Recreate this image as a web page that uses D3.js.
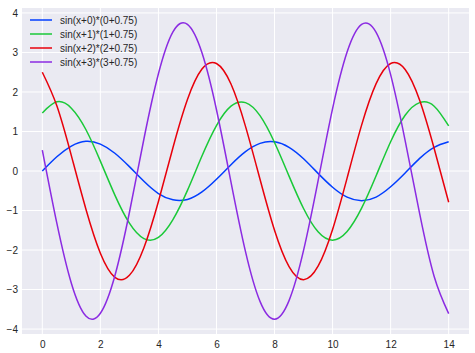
<!DOCTYPE html>
<html>
<head>
<meta charset="utf-8">
<script src="https://d3js.org/d3.v7.min.js"></script>
<style>
  body { margin: 0; background: #fff; }
  svg { font-family: 'Liberation Sans', Arial, sans-serif; }
  .tick text { fill: #262626; font-size: 10px; }
  .legend text { fill: #262626; font-size: 10px; }
</style>
</head>
<body>
<div id="chart"></div>
<script>
// x sampled every 0.5 from 0 to 14
const xs = d3.range(0, 29).map(k => k * 0.5);

const labels = ["sin(x+0)*(0+0.75)", "sin(x+1)*(1+0.75)", "sin(x+2)*(2+0.75)", "sin(x+3)*(3+0.75)"];
const colors = ["#023eff", "#1ac938", "#e8000b", "#8b2be2"];

const s0 = [0, 0.36, 0.63, 0.75, 0.68, 0.45, 0.11, -0.26, -0.57, -0.73, -0.72, -0.53, -0.21, 0.16, 0.49,
            0.70, 0.74, 0.60, 0.31, -0.06, -0.41, -0.66, -0.75, -0.66, -0.40, -0.05, 0.32, 0.60, 0.74];
const s1 = [1.47, 1.75, 1.59, 1.05, 0.25, -0.61, -1.32, -1.71, -1.68, -1.23, -0.49, 0.38, 1.15, 1.64, 1.73,
            1.40, 0.72, -0.13, -0.95, -1.54, -1.75, -1.53, -0.94, -0.12, 0.74, 1.41, 1.73, 1.64, 1.14];
const s2 = [2.50, 1.65, 0.39, -0.96, -2.08, -2.69, -2.64, -1.94, -0.77, 0.59, 1.81, 2.58, 2.72, 2.20, 1.13,
            -0.21, -1.50, -2.42, -2.75, -2.41, -1.48, -0.18, 1.16, 2.21, 2.72, 2.57, 1.79, 0.57, -0.79];
const s3 = [0.53, -1.32, -2.84, -3.67, -3.60, -2.65, -1.05, 0.81, 2.46, 3.52, 3.71, 2.99, 1.55, -0.28, -2.04,
            -3.30, -3.75, -3.28, -2.01, -0.25, 1.58, 3.01, 3.71, 3.51, 2.44, 0.77, -1.08, -2.67, -3.61];
const series = [s0, s1, s2, s3];

const xTicks = [0, 2, 4, 6, 8, 10, 12, 14];
const yTicks = [-4, -3, -2, -1, 0, 1, 2, 3, 4];

const W = 475, H = 353;
const plot = { left: 22, right: 469, top: 8, bottom: 334 };

const svg = d3.select("#chart").append("svg")
  .attr("width", W)
  .attr("height", H);

const x = d3.scaleLinear().domain([-0.7, 14.7]).range([plot.left, plot.right]);
const y = d3.scaleLinear().domain([-4.125, 4.125]).range([plot.bottom, plot.top]);

svg.append("rect")
  .attr("x", plot.left).attr("y", plot.top)
  .attr("width", plot.right - plot.left).attr("height", plot.bottom - plot.top)
  .attr("fill", "#eaeaf2");

// grid
svg.append("g").selectAll("line").data(xTicks).enter().append("line")
  .attr("x1", d => x(d)).attr("x2", d => x(d))
  .attr("y1", plot.top).attr("y2", plot.bottom)
  .attr("stroke", "#fff").attr("stroke-width", 1);
svg.append("g").selectAll("line").data(yTicks).enter().append("line")
  .attr("y1", d => y(d)).attr("y2", d => y(d))
  .attr("x1", plot.left).attr("x2", plot.right)
  .attr("stroke", "#fff").attr("stroke-width", 1);

// axes (labels only, seaborn darkgrid has no ticks or spines)
const xAxis = svg.append("g")
  .attr("transform", `translate(0,${plot.bottom})`)
  .call(d3.axisBottom(x).tickValues(xTicks).tickSize(0).tickPadding(7));
const yAxis = svg.append("g")
  .attr("transform", `translate(${plot.left},0)`)
  .call(d3.axisLeft(y).tickValues(yTicks).tickSize(0).tickPadding(4)
    .tickFormat(d => d < 0 ? "\u2212" + Math.abs(d) : d));
xAxis.select(".domain").remove();
yAxis.select(".domain").remove();

// lines
const line = d3.line()
  .x((d, i) => x(xs[i]))
  .y(d => y(d))
  .curve(d3.curveNatural);

series.forEach((s, i) => {
  svg.append("path")
    .datum(s)
    .attr("fill", "none")
    .attr("stroke", colors[i])
    .attr("stroke-width", 1.5)
    .attr("d", line);
});

// legend
const legend = svg.append("g").attr("class", "legend");
labels.forEach((lab, i) => {
  const cy = 20 + i * 14;
  legend.append("line")
    .attr("x1", 30).attr("x2", 52)
    .attr("y1", cy).attr("y2", cy)
    .attr("stroke", colors[i]).attr("stroke-width", 1.5);
  legend.append("text")
    .attr("x", 60).attr("y", cy)
    .attr("dy", "0.35em")
    .text(lab);
});
</script>
</body>
</html>
